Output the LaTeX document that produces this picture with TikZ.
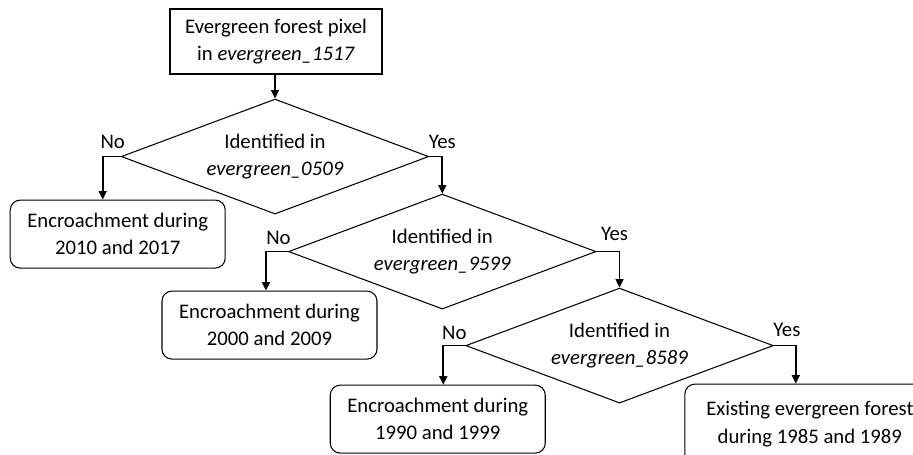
\documentclass[tikz,border=0pt]{standalone}
\usepackage{fontspec}
\setmainfont{Carlito}
\usetikzlibrary{shapes.geometric, arrows.meta, positioning, calc}
\tikzstyle{arrow} = [line width=0.9pt,-{Triangle[length=1.7mm,width=1.6mm]}]
\tikzstyle{basic} = [rectangle, minimum width=42.4mm, minimum height=13mm, align=center, draw=black, line width=0.6pt]
\tikzstyle{outcome} = [basic, rounded corners=2mm, minimum width=43mm, minimum height=13.6mm]
\tikzstyle{decision} = [diamond, aspect=2.7, inner sep=0pt, minimum width=61.5mm, minimum height=23mm, align=center, draw=black, line width=0.6pt]
\tikzstyle{tag} = [inner sep=0pt]

\begin{document}
\begin{tikzpicture}[font={\fontsize{11.8}{15.4}\selectfont}]

\useasboundingbox (-55.2mm,8.3mm) rectangle (127.4mm,-82.7mm);

\node (pixel) [basic] at(0,0) {Evergreen forest pixel\\in \textit{evergreen\_1517}};
\node (id0509) [decision, anchor=north, yshift=-4.8mm, xshift=-0.2mm] at(pixel.south) {Identified in\\\textit{evergreen\_0509}};
\draw [arrow] (pixel.south -| id0509.north) -- (id0509.north);

% first decision
\coordinate (no0509) at ($(id0509.west) + (-3.6mm, 0)$);
\coordinate (yes0509) at ($(id0509.east) + (2.6mm, 0)$);
\node (enc1017) [outcome, anchor=north, yshift=-8.6mm, xshift=-0.6mm] at(id0509.west) {Encroachment during\\2010 and 2017};
\node (id9599) [decision, anchor=north, yshift=-7.4mm] at(yes0509) {Identified in\\\textit{evergreen\_9599}};
\draw [arrow] (id0509.west) -- (no0509) -- (no0509 |- enc1017.north);
\draw [arrow] (id0509.east) -- (yes0509) -- (id9599.north);
\node (lbl_no0509) [tag, xshift=2mm, yshift=2.9mm] at(no0509) {No};
\node (lbl_yes0509) [tag, yshift=3mm] at(yes0509) {Yes};

% second decision
\coordinate (no9599) at ($(id9599.west) + (-4.4mm, 0)$);
\coordinate (yes9599) at ($(id9599.east) + (4.6mm, 0)$);
\node (enc0009) [outcome, anchor=north, yshift=-7.8mm, xshift=-3.7mm] at(id9599.west) {Encroachment during\\2000 and 2009};
\node (id8589) [decision, anchor=north, yshift=-7.2mm] at(yes9599) {Identified in\\\textit{evergreen\_8589}};
\draw [arrow] (id9599.west) -- (no9599) -- (no9599 |- enc0009.north);
\draw [arrow] (id9599.east) -- (yes9599) -- (id8589.north);
\node (lbl_no9599) [tag, xshift=2.5mm, yshift=2.8mm] at(no9599) {No};
\node (lbl_yes9599) [tag, xshift=-1mm, yshift=3.6mm] at(yes9599) {Yes};

% third decision
\coordinate (no8589) at ($(id8589.west) + (-4.4mm, 0)$);
\coordinate (yes8589) at ($(id8589.east) + (4.4mm, 0)$);
\node (enc9099) [outcome, anchor=north, yshift=-7.8mm, xshift=-5.5mm] at(id8589.west) {Encroachment during\\1990 and 1999};
\node (exist) [outcome, anchor=north, minimum width=50mm, minimum height=16mm, yshift=-7.6mm, xshift=7.2mm] at(id8589.east) {Existing evergreen forest\\during 1985 and 1989};
\draw [arrow] (id8589.west) -- (no8589) -- (no8589 |- enc9099.north);
\draw [arrow] (id8589.east) -- (yes8589) -- (yes8589 |- exist.north);
\node (lbl_no8589) [tag, xshift=2.2mm, yshift=2.6mm] at(no8589) {No};
\node (lbl_yes8589) [tag, xshift=-1.8mm, yshift=3.2mm] at(yes8589) {Yes};

\end{tikzpicture}
\end{document}
